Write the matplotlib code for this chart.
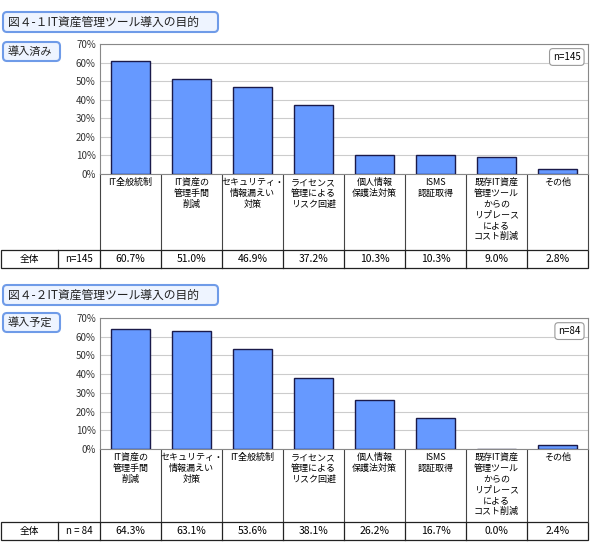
import matplotlib
matplotlib.use("Agg")
import matplotlib.pyplot as plt
from matplotlib.patches import FancyBboxPatch, Rectangle

plt.rcParams['font.family'] = ['Noto Sans CJK JP', 'DejaVu Sans']

W, H = 590, 552
titles = ["図４-１IT資産管理ツール導入の目的", "図４-２IT資産管理ツール導入の目的"]
subs = ["導入済み", "導入予定"]
ns = ["n=145", "n=84"]
cats1 = ["IT全般統制", "IT資産の\n管理手間\n削減", "セキュリティ・\n情報漏えい\n対策", "ライセンス\n管理による\nリスク回避",
         "個人情報\n保護法対策", "ISMS\n認証取得", "既存IT資産\n管理ツール\nからの\nリプレース\nによる\nコスト削減", "その他"]
vals1 = [60.7, 51.0, 46.9, 37.2, 10.3, 10.3, 9.0, 2.8]
cats2 = ["IT資産の\n管理手間\n削減", "セキュリティ・\n情報漏えい\n対策", "IT全般統制", "ライセンス\n管理による\nリスク回避",
         "個人情報\n保護法対策", "ISMS\n認証取得", "既存IT資産\n管理ツール\nからの\nリプレース\nによる\nコスト削減", "その他"]
vals2 = [64.3, 63.1, 53.6, 38.1, 26.2, 16.7, 0.0, 2.4]
yticks = [0, 10, 20, 30, 40, 50, 60, 70]

fig = plt.figure(figsize=(W/100, H/100), dpi=100)
ov = fig.add_axes([0, 0, 1, 1])
ov.set_xlim(0, W); ov.set_ylim(H, 0); ov.axis('off')

def pax(x0, y0, x1, y1):
    return fig.add_axes([x0/W, 1-y1/H, (x1-x0)/W, (y1-y0)/H])

def box(x0, y0, x1, y1, text, fs):
    ov.add_patch(FancyBboxPatch((x0, y0), x1-x0, y1-y0, boxstyle="round,pad=0,rounding_size=4",
                                fc="#eef4ff", ec="#6f9be8", lw=1.5))
    ov.text(x0+5, (y0+y1)/2, text, fontsize=fs, va='center', ha='left', color='#222')

X0, X1 = 100, 588
cw = (X1-X0)/8
panels = [(12, 42, 44, 174, 250, 268, cats1, vals1, 218),
          (285, 313, 318, 449, 522, 540, cats2, vals2, 218)]
for k, (ty, sy, top, bot, rt, rb, cats, vals, tw) in enumerate(panels):
    box(3, ty, tw, ty+20, titles[k], 8.5)
    box(3, sy, 60, sy+19, subs[k], 8)
    ax = pax(X0, top, X1, bot)
    ax.bar([i+0.5 for i in range(8)], vals, width=0.65, color="#6699ff", edgecolor="#1a1a4a", lw=1, zorder=3)
    ax.set_xlim(0, 8); ax.set_ylim(0, 70)
    ax.set_yticks(yticks)
    ax.set_yticklabels([f"{t}%" for t in yticks], fontsize=7, color='#333')
    ax.tick_params(length=0, pad=3)
    ax.set_xticks([])
    ax.grid(axis='y', color='#cccccc', lw=0.8, zorder=0)
    for s in ax.spines.values():
        s.set_color('#888888')
    ax.text(0.985, 0.9, ns[k], transform=ax.transAxes, ha='right', va='center', fontsize=7,
            bbox=dict(boxstyle='round,pad=0.35', fc='white', ec='#999999', lw=0.8))
    # label area
    for i in range(9):
        ov.plot([X0+i*cw]*2, [bot, rt], color='#444', lw=0.8)
    for i, c in enumerate(cats):
        ov.text(X0+(i+0.5)*cw, bot+4, c, ha='center', va='top', fontsize=6.5, linespacing=1.25)
    # table row
    ov.add_patch(Rectangle((1, rt), X1-1, rb-rt, fill=False, ec='#222', lw=0.9))
    for xx in [58] + [X0+i*cw for i in range(8)]:
        ov.plot([xx, xx], [rt, rb], color='#222', lw=0.9)
    ym = (rt+rb)/2
    ov.text(29, ym, "全体", ha='center', va='center', fontsize=7)
    ov.text(79, ym, ns[k].replace("=", " = ") if k else ns[k], ha='center', va='center', fontsize=7)
    for i, v in enumerate(vals):
        ov.text(X0+(i+0.5)*cw, ym, f"{v:.1f}%", ha='center', va='center', fontsize=7.5)

fig.savefig("out.png", dpi=100)
